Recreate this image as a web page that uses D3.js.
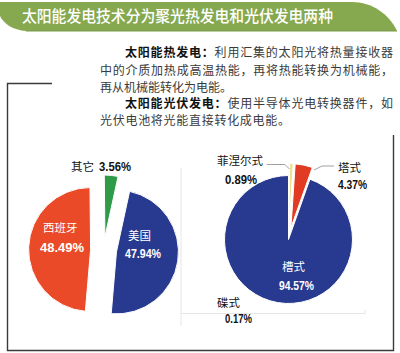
<!DOCTYPE html>
<html><head><meta charset="utf-8">
<script src="https://cdn.jsdelivr.net/npm/d3@7"></script>
<style>
html,body{margin:0;padding:0;background:#fff;}
svg{display:block;}
.cn{font-family:"Noto Sans CJK SC","Noto Sans",sans-serif;}
.num{font-family:"Liberation Sans",Arial,sans-serif;font-weight:bold;}
</style></head>
<body>
<svg id="c" width="400" height="353"></svg>
<script>
// ---- data ----
const title = "太阳能发电技术分为聚光热发电和光伏发电两种";
const paraBold = ["太阳能热发电：", "", "", "太阳能光伏发电：", ""];
const paraText = ["利用汇集的太阳光将热量接收器", "中的介质加热成高温热能，再将热能转换为机械能，", "再从机械能转化为电能。", "使用半导体光电转换器件，如", "光伏电池将光能直接转化成电能。"];
const leftLabels = ["其它", "美国", "西班牙"];
const leftValues = [3.56, 47.94, 48.49];
const rightLabels = ["碟式", "菲涅尔式", "塔式", "槽式"];
const rightValues = [0.17, 0.89, 4.37, 94.57];

const svg = d3.select("#c");
svg.append("rect").attr("width",400).attr("height",353).attr("fill","#fff");

// ---- banner ----
svg.append("path")
  .attr("d","M0,2 H352 C372,2 389,14 397,31 H26 C13,30 4,24 0,16 Z")
  .attr("fill","#86a94f");
svg.append("path")
  .attr("d","M26,31 H397")
  .attr("stroke","#7a9a48").attr("stroke-width",1.2).attr("fill","none");
svg.append("text").attr("class","cn")
  .attr("x",22).attr("y",21.5)
  .attr("font-size",16).attr("font-weight",500)
  .attr("fill","#fff")
  .attr("textLength",311).attr("lengthAdjust","spacingAndGlyphs")
  .text(title);

// ---- paragraph ----
const lineX = [125,100,100,125,100];
const lineY = [57,75,92,108,125];
const lineW = [268,293,0,268,190];
paraText.forEach((t,i)=>{
  const tx = svg.append("text").attr("class","cn")
    .attr("x",lineX[i]).attr("y",lineY[i])
    .attr("font-size",12).attr("fill","#3a3a3a");
  if(lineW[i]) tx.attr("textLength",lineW[i]).attr("lengthAdjust","spacing");
  if(paraBold[i]) tx.append("tspan").attr("font-weight",700).attr("fill","#111").text(paraBold[i]);
  tx.append("tspan").text(t);
});

// ---- frame ----
svg.append("path")
  .attr("d","M52,83.5 H7.5 V350.5 H393.5 V135")
  .attr("fill","none").attr("stroke","#3a3a3a").attr("stroke-width",1.4);
svg.append("path")
  .attr("d","M181,168 V326 M181,313.5 H365 V310")
  .attr("fill","none").attr("stroke","#e6e6e6").attr("stroke-width",1);

// ---- left pie ----
const R = 62;
const pieL = d3.pie().sort(null).startAngle(-0.01).endAngle(2*Math.PI-0.01)(leftValues);
const arcL = d3.arc().innerRadius(0).outerRadius(R);
const colL = ["#2f9a47","#283a8f","#ea4a28"];
const cL = [103.6,250];
const offL = [13,13,13];
const gL = svg.append("g").attr("transform",`translate(${cL[0]},${cL[1]})`);
gL.selectAll("path").data(pieL).join("path")
  .attr("d",arcL)
  .attr("fill",(d,i)=>colL[i])
  .attr("stroke","#fff").attr("stroke-width",1)
  .attr("transform",(d,i)=>{
    const a=(d.startAngle+d.endAngle)/2;
    return `translate(${offL[i]*Math.sin(a)},${-offL[i]*Math.cos(a)})`;
  });

// ---- right pie ----
const R2 = 64;
const pieR = d3.pie().sort(null).startAngle(0).endAngle(2*Math.PI)(rightValues);
const arcR = d3.arc().innerRadius(0).outerRadius(R2);
const colR = ["#2a3b8c","#f0df8c","#e23b24","#283a8f"];
const offR = [12,12,12,0];
const cR = [288.5,239.5];
const gR = svg.append("g").attr("transform",`translate(${cR[0]},${cR[1]})`);
gR.selectAll("path").data(pieR).join("path")
  .attr("d",arcR)
  .attr("fill",(d,i)=>colR[i])
  .attr("stroke","#fff").attr("stroke-width",1)
  .attr("transform",(d,i)=>{
    const a=(d.startAngle+d.endAngle)/2;
    return `translate(${offR[i]*Math.sin(a)},${-offR[i]*Math.cos(a)})`;
  });

// leader lines
svg.append("path").attr("d","M267,164.5 H285 L289.5,169")
  .attr("fill","none").attr("stroke","#888").attr("stroke-width",0.8);
svg.append("path").attr("d","M334,166 H322 L314,170")
  .attr("fill","none").attr("stroke","#888").attr("stroke-width",0.8);

// ---- labels ----
const fmt = v => d3.format(".2f")(v)+"%";
const lbl = svg.append("g");
function nameT(name, x, y, color){
  lbl.append("text").attr("class","cn").attr("x",x).attr("y",y)
    .attr("font-size",11.5).attr("fill",color).text(name);
}
function numT(val, x, y, color, size, w){
  lbl.append("text").attr("class","num").attr("x",x).attr("y",y)
    .attr("font-size",size).attr("fill",color)
    .attr("textLength",w).attr("lengthAdjust","spacingAndGlyphs")
    .text(fmt(val));
}
nameT(leftLabels[0], 71, 170.5, "#111");
numT(leftValues[0], 99, 170.5, "#111", 13, 32);
nameT(leftLabels[2], 43, 232, "#fff");
numT(leftValues[2], 40, 252, "#fff", 13.5, 44);
nameT(leftLabels[1], 128, 240, "#fff");
numT(leftValues[1], 125, 258, "#fff", 13.5, 36);

nameT(rightLabels[1], 217, 164.5, "#111");
numT(rightValues[1], 225, 183.5, "#111", 13, 32);
nameT(rightLabels[2], 338, 172, "#111");
numT(rightValues[2], 338, 188.5, "#111", 13, 29);
nameT(rightLabels[3], 282, 271, "#fff");
numT(rightValues[3], 279, 289.5, "#fff", 13.5, 35);
nameT(rightLabels[0], 217, 306.5, "#111");
numT(rightValues[0], 225, 323, "#111", 13, 27);
</script>
</body></html>
